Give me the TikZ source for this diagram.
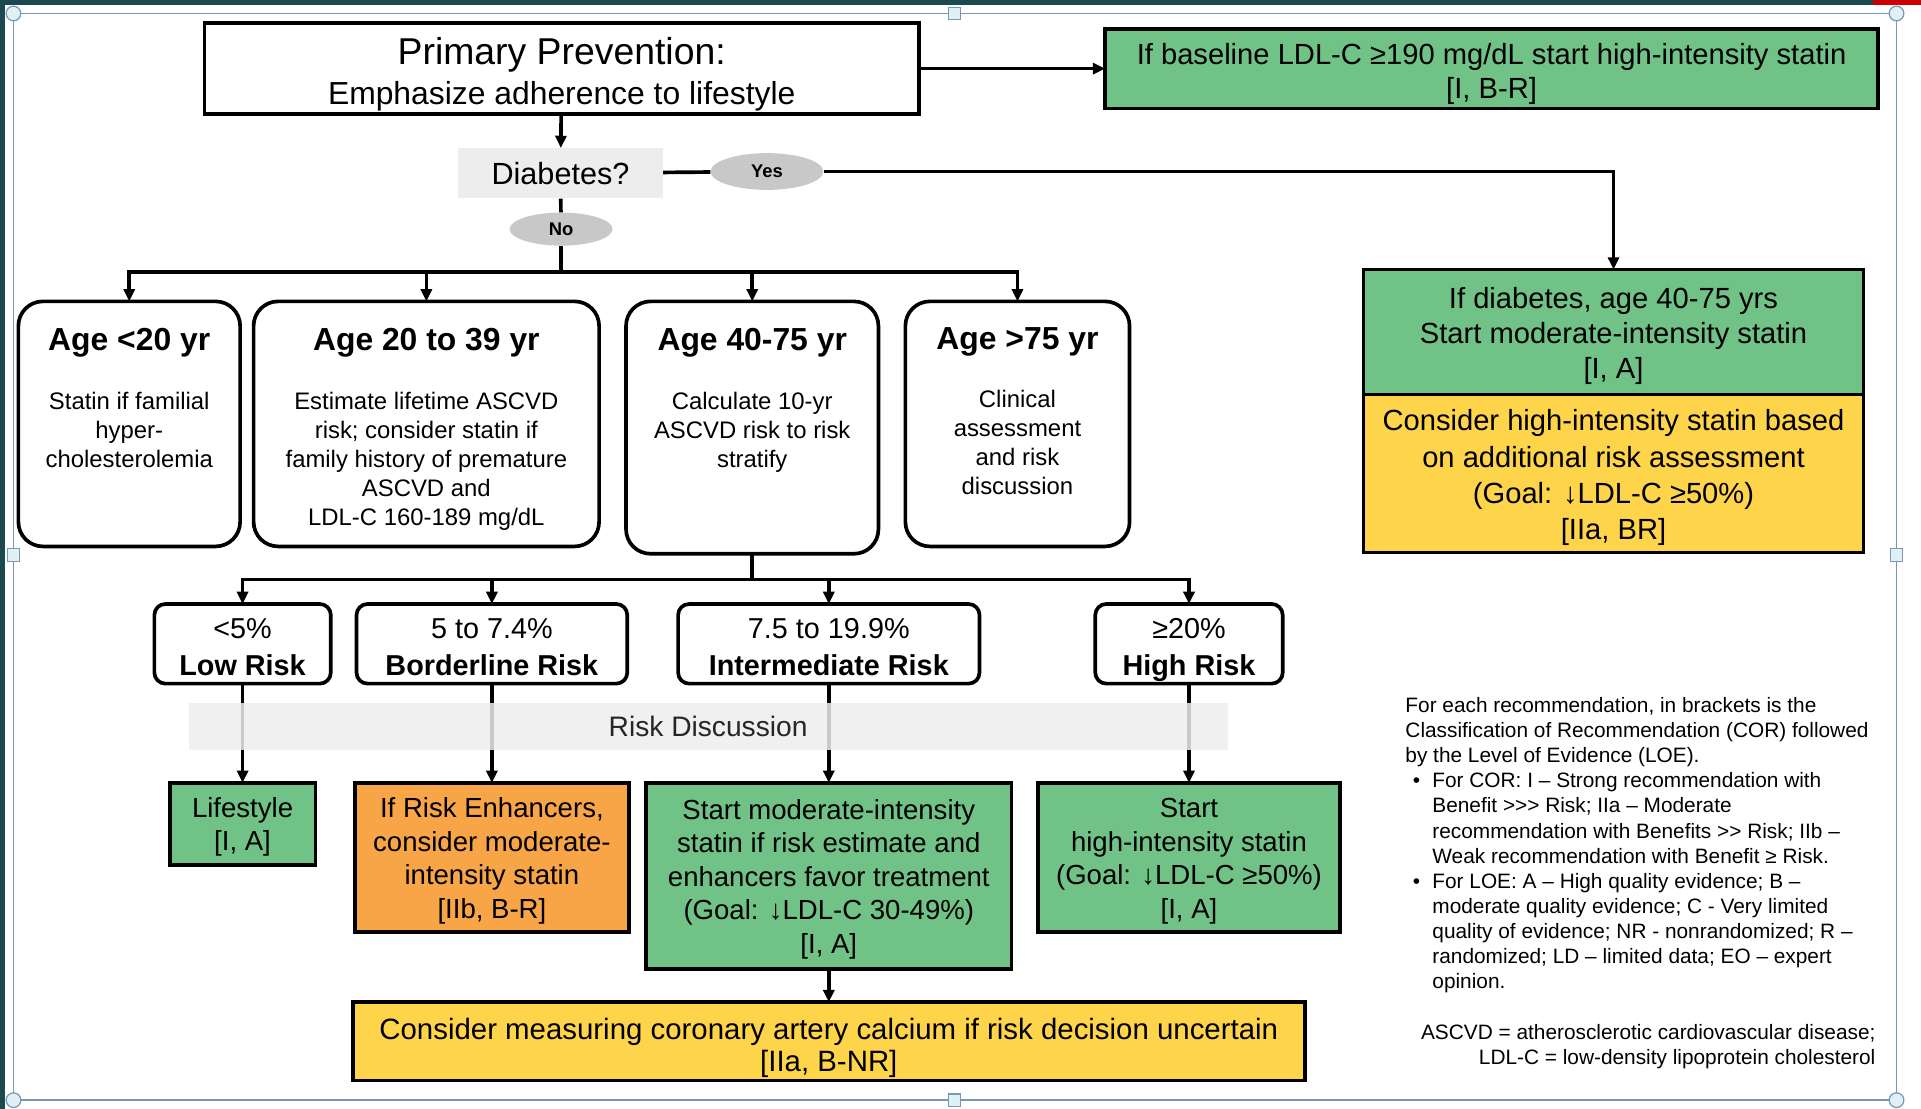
\documentclass[tikz,border=0pt]{standalone}
\usepackage{fontspec}
\setmainfont{Liberation Sans}
\usepackage{tikz}
\usetikzlibrary{shapes, arrows.meta}
\usetikzlibrary{positioning}
\definecolor{boxgreen}{RGB}{112,194,134}
\definecolor{boxyellow}{RGB}{254,212,74}
\definecolor{boxorange}{RGB}{248,165,72}
\definecolor{paleshade}{RGB}{237,237,237}
\definecolor{ovalgrey}{RGB}{200,200,200}
\definecolor{framecol}{RGB}{122,150,186}
\definecolor{framedark}{RGB}{28,72,80}
\definecolor{handlefill}{RGB}{222,242,246}
% empty strut that pushes the first line of a box down
\newcommand{\headroom}[1]{\rule{0pt}{#1}}
\tikzstyle{box} = [rectangle, draw = black, line width = 3pt, text centered,
  align = center, inner sep = 0pt, outer sep = 0pt]
\tikzstyle{agebox} = [box, rounded corners = 20pt]
\tikzstyle{agetxt} = [align = center, inner sep = 0pt,
  font = \fontsize{19.5}{23.7}\selectfont]
\tikzstyle{riskbox} = [
  box, rounded corners = 9pt,
  minimum height = 65, font = \fontsize{23.5}{30}\selectfont
]
\tikzstyle{actbox} = [box, font = \fontsize{22.5}{27.3}\selectfont]
\tikzstyle{oval} = [ellipse, fill = ovalgrey, inner sep = 0pt,
  font = \bfseries\fontsize{15}{18}\selectfont]
\tikzstyle{conn} = [line width = 3pt]
\tikzstyle{arr} = [conn, -{Triangle[length = 10pt, width = 9pt]}]
\tikzstyle{handle} = [draw = framecol, fill = handlefill, line width = 1pt]

\begin{document}
\begin{tikzpicture}[x = 1pt, y = -1pt]
  \useasboundingbox (0, 0) rectangle (1568, 905);
  % screen frame
  \fill [framedark] (0, 0) rectangle (1529, 4);
  \fill [red!80!black] (1529, 0) rectangle (1568, 4);
  \fill [framedark] (0, 0) rectangle (4, 905);
  \draw [framecol, line width = 1.5pt] (11, 11) rectangle (1548, 898);

  % top
  \node [box, minimum width = 583, minimum height = 74,
    font = \fontsize{26}{33}\selectfont] (prim) at (458.5, 56)
    {{\fontsize{30.5}{33}\selectfont\headroom{1.04em}Primary Prevention:}\\
     Emphasize adherence to lifestyle};
  \node [box, fill = boxgreen, minimum width = 631, minimum height = 65,
    font = \fontsize{23.8}{28}\selectfont] (ldl) at (1217.5, 56)
    {\headroom{1.08em}If baseline LDL-C ≥190 mg/dL start high-intensity
    statin\\{}[I, B-R]};
  \node [rectangle, fill = paleshade, minimum width = 167, minimum height = 41,
    font = \fontsize{25}{28}\selectfont] (diab) at (457.5, 141.5) {Diabetes?};
  \node [oval, minimum width = 92, minimum height = 30] (yes) at (626, 140)
    {Yes};
  \node [oval, minimum width = 84, minimum height = 27] (no) at (458, 187)
    {No};

  % diabetes, right column
  \node [box, fill = boxgreen, minimum width = 408, minimum height = 102,
    font = \fontsize{23.8}{28.5}\selectfont] (diabgreen) at (1317, 271)
    {\headroom{1em}If diabetes, age 40-75 yrs\\
    Start moderate-intensity statin\\{}[I, A]};
  \node [box, fill = boxyellow, minimum width = 408, minimum height = 129,
    font = \fontsize{23.8}{29.5}\selectfont, below = 0pt of diabgreen]
    (diabyellow) {\headroom{1em}Consider high-intensity statin based\\
    on additional risk assessment\\(Goal: ↓LDL-C ≥50\%)\\{}[IIa, BR]};

  % age groups
  \node [agebox, minimum width = 181, minimum height = 200] (age1)
    at (105.5, 346) {};
  \node [agebox, minimum width = 282, minimum height = 200] (age2)
    at (348, 346) {};
  \node [agebox, minimum width = 206, minimum height = 206] (age3)
    at (614, 349) {};
  \node [agebox, minimum width = 183, minimum height = 200] (age4)
    at (830.5, 346) {};
  \node [agetxt, below = 22pt of age1.north] (age1-txt)
    {{\fontsize{26}{30}\selectfont\bfseries Age <20 yr}\\[24pt]
     Statin if familial\\hyper-\\cholesterolemia};
  \node [agetxt, below = 22pt of age2.north] (age2-txt)
    {{\fontsize{26}{30}\selectfont\bfseries Age 20 to 39 yr}\\[24pt]
     Estimate lifetime ASCVD\\risk; consider statin if\\
     family history of premature\\ASCVD and\\LDL-C 160-189 mg/dL};
  \node [agetxt, below = 22pt of age3.north] (age3-txt)
    {{\fontsize{26}{30}\selectfont\bfseries Age 40-75 yr}\\[24pt]
     Calculate 10-yr\\ASCVD risk to risk\\stratify};
  \node [agetxt, below = 21pt of age4.north] (age4-txt)
    {{\fontsize{26}{30}\selectfont\bfseries Age >75 yr}\\[24pt]
     Clinical\\assessment\\and risk\\discussion};

  % risk groups
  \node [riskbox, minimum width = 144] (risk1) at (198, 525.5)
    {\headroom{0.9em}<5\%\\\textbf{Low Risk}};
  \node [riskbox, minimum width = 221] (risk2) at (401.5, 525.5)
    {\headroom{0.9em}5 to 7.4\%\\\textbf{Borderline Risk}};
  \node [riskbox, minimum width = 246] (risk3) at (676.5, 525.5)
    {\headroom{0.9em}7.5 to 19.9\%\\\textbf{Intermediate Risk}};
  \node [riskbox, minimum width = 153] (risk4) at (970.5, 525.5)
    {\headroom{1.15em}≥20\%\\\textbf{High Risk}};

  % actions
  \node [actbox, fill = boxgreen, minimum width = 119, minimum height = 67]
    (act1) at (198, 672.5) {\headroom{0.95em}Lifestyle\\{}[I, A]};
  \node [actbox, fill = boxorange, minimum width = 224, minimum height = 122]
    (act2) at (401.5, 700) {\headroom{0.95em}If Risk Enhancers,\\
    consider moderate-\\intensity statin\\{}[IIb, B-R]};
  \node [actbox, fill = boxgreen, minimum width = 298, minimum height = 152]
    (act3) at (676.5, 715) {\headroom{0.95em}Start moderate-intensity\\
    statin if risk estimate and\\enhancers favor treatment\\
    (Goal: ↓LDL-C 30-49\%)\\{}[I, A]};
  \node [actbox, fill = boxgreen, minimum width = 246, minimum height = 122]
    (act4) at (970.5, 700) {\headroom{0.95em}Start\\high-intensity statin\\
    (Goal: ↓LDL-C ≥50\%)\\{}[I, A]};
  \node [box, fill = boxyellow, minimum width = 777, minimum height = 64,
    font = \fontsize{24}{26}\selectfont] (cac) at (676.5, 850)
    {\headroom{1.15em}Consider measuring coronary artery calcium if risk
    decision uncertain\\{}[IIa, B-NR]};

  % connectors
  \coordinate (agebus) at (458, 222);
  \coordinate (riskbus) at (614, 473);
  \draw [arr] (prim) -- (diab);
  \draw [arr] (prim) -- (ldl);
  \draw [conn] (diab) -- (yes);
  \draw [arr] (yes) -| (diabgreen);
  \draw [conn] (diab) -- (no);
  \draw [conn] (no) -- (agebus);
  \foreach \n in {age1, age2, age3, age4}
    \draw [arr] (agebus) -| (\n);
  \draw [conn] (age3) -- (riskbus);
  \foreach \n in {risk1, risk2, risk3, risk4}
    \draw [arr] (riskbus) -| (\n);
  \foreach \r/\a in {risk1/act1, risk2/act2, risk3/act3, risk4/act4}
    \draw [arr] (\r) -- (\a);
  \draw [arr] (act3) -- (cac);

  % shared band over the risk lines
  \node [rectangle, fill = paleshade, fill opacity = 0.85, text opacity = 1,
    minimum width = 848, minimum height = 38, text = black!85,
    font = \fontsize{23}{26}\selectfont] (disc) at (578, 593)
    {Risk Discussion};

  % notes
  \node [anchor = north west, align = left, inner sep = 0pt,
    font = \fontsize{17}{20.5}\selectfont] (notes) at (1147, 569)
    {For each recommendation, in brackets is the\\
     Classification of Recommendation (COR) followed\\
     by the Level of Evidence (LOE).\\
     \makebox[22pt][l]{\hspace{6pt}•}For COR: I – Strong recommendation with\\
     \hspace*{22pt}Benefit >{}>{}> Risk; IIa – Moderate\\
     \hspace*{22pt}recommendation with Benefits >{}> Risk; IIb –\\
     \hspace*{22pt}Weak recommendation with Benefit ≥ Risk.\\
     \makebox[22pt][l]{\hspace{6pt}•}For LOE: A – High quality evidence; B –\\
     \hspace*{22pt}moderate quality evidence; C - Very limited\\
     \hspace*{22pt}quality of evidence; NR - nonrandomized; R –\\
     \hspace*{22pt}randomized; LD – limited data; EO – expert\\
     \hspace*{22pt}opinion.};
  \node [anchor = north east, align = right, inner sep = 0pt,
    font = \fontsize{17}{20.5}\selectfont] (abbrev) at (1531, 836)
    {ASCVD = atherosclerotic cardiovascular disease;\\
     LDL-C = low-density lipoprotein cholesterol};

  % frame handles
  \foreach \hx/\hy in {11/11, 1548/11, 11/898, 1548/898}
    \draw [handle] (\hx, \hy) circle (6pt);
  \foreach \hx/\hy in {779/11, 779/898, 11/453, 1548/453}
    \draw [handle] (\hx - 5, \hy - 5) rectangle (\hx + 5, \hy + 5);
\end{tikzpicture}
\end{document}
